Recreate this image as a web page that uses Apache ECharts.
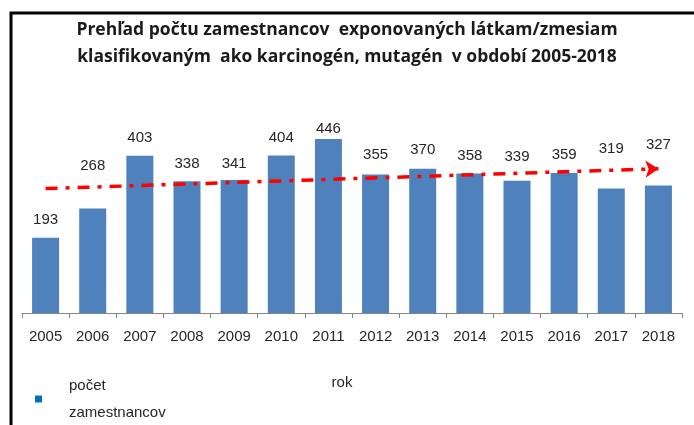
<!DOCTYPE html>
<html>
<head>
<meta charset="utf-8">
<script src="https://cdn.jsdelivr.net/npm/echarts@6/dist/echarts.min.js"></script>
<style>
  html, body { margin: 0; padding: 0; background: #fff; }
  #main { width: 694px; height: 425px; }
</style>
</head>
<body>
<div id="main"></div>
<script>
// roky a pocty zamestnancov
const years = ['2005', '2006', '2007', '2008', '2009', '2010', '2011', '2012', '2013', '2014', '2015', '2016', '2017', '2018'];
const counts = [193, 268, 403, 338, 341, 404, 446, 355, 370, 358, 339, 359, 319, 327];
// koncove body trendovej ciary (odcitane z obrazka)
const trendStart = 319;
const trendEnd = 370;

// popisky su v povodnom grafe rucne posunute
const labelGap = [10, 35, 10, 10, 9, 10, 3, 12, 11, 10, 16, 11, 32, 33];

const myChart = echarts.init(document.getElementById('main'));
const font = 'Liberation Sans';

const option = {
  animation: false,
  title: {
    text: 'Prehľad počtu zamestnancov  exponovaných látkam/zmesiam\nklasifikovaným  ako karcinogén, mutagén  v období 2005-2018',
    left: 'center',
    top: 12,
    textStyle: {
      fontFamily: 'Open Sans',
      fontSize: 17.5,
      fontWeight: 'bold',
      color: '#1a1a1a',
      lineHeight: 27
    }
  },
  legend: {
    left: 30,
    top: 367,
    itemWidth: 7,
    itemHeight: 7,
    icon: 'rect',
    data: [{ name: 'počet zamestnancov', itemStyle: { color: '#0070C0' } }],
    formatter: function (name) {
      return name.replace(' ', '\n');
    },
    textStyle: {
      fontFamily: font,
      fontSize: 15,
      color: '#262626',
      lineHeight: 27,
      padding: [0, 0, 0, 22]
    }
  },
  grid: { left: 22, right: 12, top: 118, bottom: 112 },
  xAxis: {
    type: 'category',
    data: years,
    name: 'rok',
    nameLocation: 'middle',
    nameGap: 62,
    nameTextStyle: {
      fontFamily: font,
      fontSize: 15,
      color: '#262626',
      padding: [0, 20, 0, 0]
    },
    axisLine: { lineStyle: { color: '#868686', width: 1 } },
    axisTick: { show: true, length: 5, lineStyle: { color: '#868686' } },
    axisLabel: {
      fontFamily: font,
      fontSize: 15,
      color: '#262626',
      margin: 16,
      interval: 0
    }
  },
  yAxis: {
    type: 'value',
    min: 0,
    max: 500,
    show: false
  },
  series: [{
    name: 'počet zamestnancov',
    type: 'bar',
    barWidth: 27,
    itemStyle: { color: '#4F81BD' },
    data: counts.map((v, i) => ({
      value: v,
      label: { distance: labelGap[i] }
    })),
    label: {
      show: true,
      position: 'top',
      fontFamily: font,
      fontSize: 15,
      color: '#262626'
    },
    markLine: {
      silent: true,
      symbol: ['none', 'arrow'],
      symbolSize: 13,
      label: { show: false },
      lineStyle: {
        color: '#FF0000',
        width: 3.5,
        type: [12, 8, 4, 8]
      },
      data: [[
        { coord: [0, trendStart] },
        { coord: [years.length - 1, trendEnd] }
      ]]
    }
  }],
  graphic: [{
    type: 'polyline',
    shape: { points: [[11, 425], [11, 13], [694, 13]] },
    style: { stroke: '#000', lineWidth: 3, fill: null }
  }]
};

myChart.setOption(option);
</script>
</body>
</html>
